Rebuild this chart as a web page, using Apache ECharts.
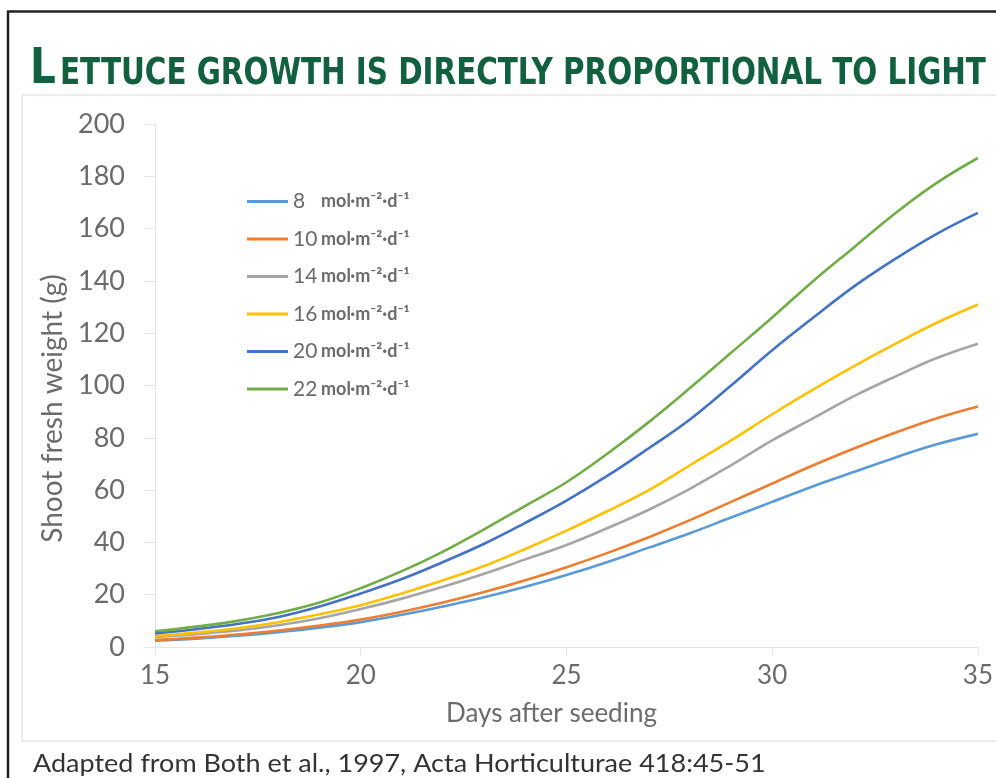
<!DOCTYPE html>
<html>
<head>
<meta charset="UTF-8">
<title>Lettuce growth</title>
<script src="https://cdn.jsdelivr.net/npm/echarts@6/dist/echarts.min.js"></script>
<style>
  html, body { margin: 0; padding: 0; background: #fff; }
  #main { width: 996px; height: 778px; }
</style>
</head>
<body>
<div id="main"></div>
<script type="text/javascript">
// days after seeding
var days = [15, 16, 17, 18, 19, 20, 21, 22, 23, 24, 25, 26, 27, 28, 29, 30, 31, 32, 33, 34, 35];
// legend names (DLI, mol/m2/d)
var lightLevels = ['8', '10', '14', '16', '20', '22'];
// shoot fresh weight (g)
var w8  = [2.4, 3.2, 4.3, 5.7, 7.4, 9.5, 12.3, 15.5, 19, 23, 27.5, 32.5, 38, 43.5, 49.5, 55.5, 61.5, 67, 72.5, 77.5, 81.5];
var w10 = [2.7, 3.6, 4.8, 6.3, 8.2, 10.5, 13.5, 17, 21, 25.5, 30.5, 36, 42, 48.5, 55.5, 62.5, 69.5, 76, 82, 87.5, 92];
var w14 = [3.8, 4.9, 6.3, 8.3, 11, 14.5, 18.5, 23, 28, 33.5, 39, 45.5, 52.5, 60.5, 69.5, 79, 87.5, 96, 103.5, 110.5, 116];
var w16 = [4.2, 5.5, 7.2, 9.5, 12.5, 16, 20.5, 25.5, 31, 37.5, 44.5, 52, 60, 69.5, 79, 89, 98.5, 107.5, 116, 124, 131];
var w20 = [5.2, 6.8, 8.8, 11.5, 15.5, 20.5, 26, 32.5, 39.5, 47.5, 56, 65.5, 76, 87, 100, 113.5, 126, 138, 148.5, 158, 166];
var w22 = [6, 7.8, 10, 13, 17, 22.5, 29, 36.5, 45, 54, 63, 74, 86, 99, 112.5, 126, 140, 153, 166, 177.5, 187];
var allWeights = [w8, w10, w14, w16, w20, w22];
var colors = ['#5B9BD5', '#ED7D31', '#A5A5A5', '#FFC000', '#4472C4', '#70AD47'];

var myChart = echarts.init(document.getElementById('main'));

var series = lightLevels.map(function (name, i) {
    return {
        name: name,
        type: 'line',
        smooth: 0.4,
        symbol: 'none',
        lineStyle: { width: 2.6, color: colors[i] },
        itemStyle: { color: colors[i] },
        data: days.map(function (d, k) { return [d, allWeights[i][k]]; })
    };
});

var faint = '#e4e4e4';
var labelGrey = '#6b6b6b';

myChart.setOption({
    animation: false,
    color: colors,
    textStyle: { fontFamily: 'Lato' },
    graphic: [
        // dark frame of the screenshot
        { type: 'line', shape: { x1: 7, y1: 11.5, x2: 996, y2: 11.5 }, style: { stroke: '#222', lineWidth: 2.5 } },
        { type: 'line', shape: { x1: 8, y1: 11, x2: 8, y2: 778 }, style: { stroke: '#222', lineWidth: 2.5 } },
        // light chart box
        { type: 'rect', shape: { x: 22, y: 95, width: 990, height: 646 }, style: { fill: 'none', stroke: '#e6e6e6', lineWidth: 1.5 } },
        // title, small caps look
        { type: 'text', x: 30, y: 95, scaleX: 0.9, style: { text: 'L', fill: '#11603f', font: 'bold 50px "DejaVu Sans Condensed"', verticalAlign: 'bottom' } },
        { type: 'text', x: 60, y: 93, scaleX: 0.86, style: { text: 'ETTUCE GROWTH IS DIRECTLY PROPORTIONAL TO LIGHT', fill: '#11603f', font: 'bold 38px "DejaVu Sans Condensed"', verticalAlign: 'bottom' } },
        // source line
        { type: 'text', x: 33, y: 764, scaleX: 1.08, style: { text: 'Adapted from Both et al., 1997, Acta Horticulturae 418:45-51', fill: '#333', font: '25px "Lato"', verticalAlign: 'middle' } }
    ],
    grid: { left: 155, right: 18, top: 124, bottom: 131 },
    legend: {
        orient: 'vertical',
        left: 242,
        top: 186,
        icon: 'rect',
        itemWidth: 41,
        itemHeight: 3,
        itemGap: 15,
        data: lightLevels,
        formatter: function (name) {
            return '{n|' + name + '}{u|mol·m⁻²·d⁻¹}';
        },
        textStyle: {
            rich: {
                n: { fontSize: 21, color: labelGrey, fontFamily: 'Lato', width: 28, lineHeight: 22 },
                u: { fontSize: 18, color: labelGrey, fontFamily: 'Lato', fontWeight: 'bold', lineHeight: 22 }
            }
        },
        itemGap: 16.5
    },
    xAxis: {
        type: 'value',
        min: 15,
        max: 35,
        interval: 5,
        name: 'Days after seeding',
        nameLocation: 'middle',
        nameGap: 54,
        nameTextStyle: { fontSize: 26, color: labelGrey, fontFamily: 'Lato', padding: [0, 30, 0, 0] },
        axisLine: { show: true, lineStyle: { color: faint } },
        axisTick: { show: true, length: 8, lineStyle: { color: faint } },
        axisLabel: { fontSize: 26, color: labelGrey, margin: 16, fontFamily: 'Lato' },
        splitLine: { show: false }
    },
    yAxis: {
        type: 'value',
        min: 0,
        max: 200,
        interval: 20,
        name: 'Shoot fresh weight (g)',
        nameLocation: 'middle',
        nameGap: 81,
        // extra padding pushes the title a bit below the axis middle
        nameTextStyle: { fontSize: 28, color: labelGrey, fontFamily: 'Lato', padding: [0, 46, 0, 0] },
        axisLine: { show: true, lineStyle: { color: faint } },
        axisTick: { show: true, length: 10, lineStyle: { color: faint } },
        axisLabel: { fontSize: 27, color: labelGrey, margin: 30, fontFamily: 'Lato' },
        splitLine: { show: false }
    },
    series: series
});
</script>
</body>
</html>
